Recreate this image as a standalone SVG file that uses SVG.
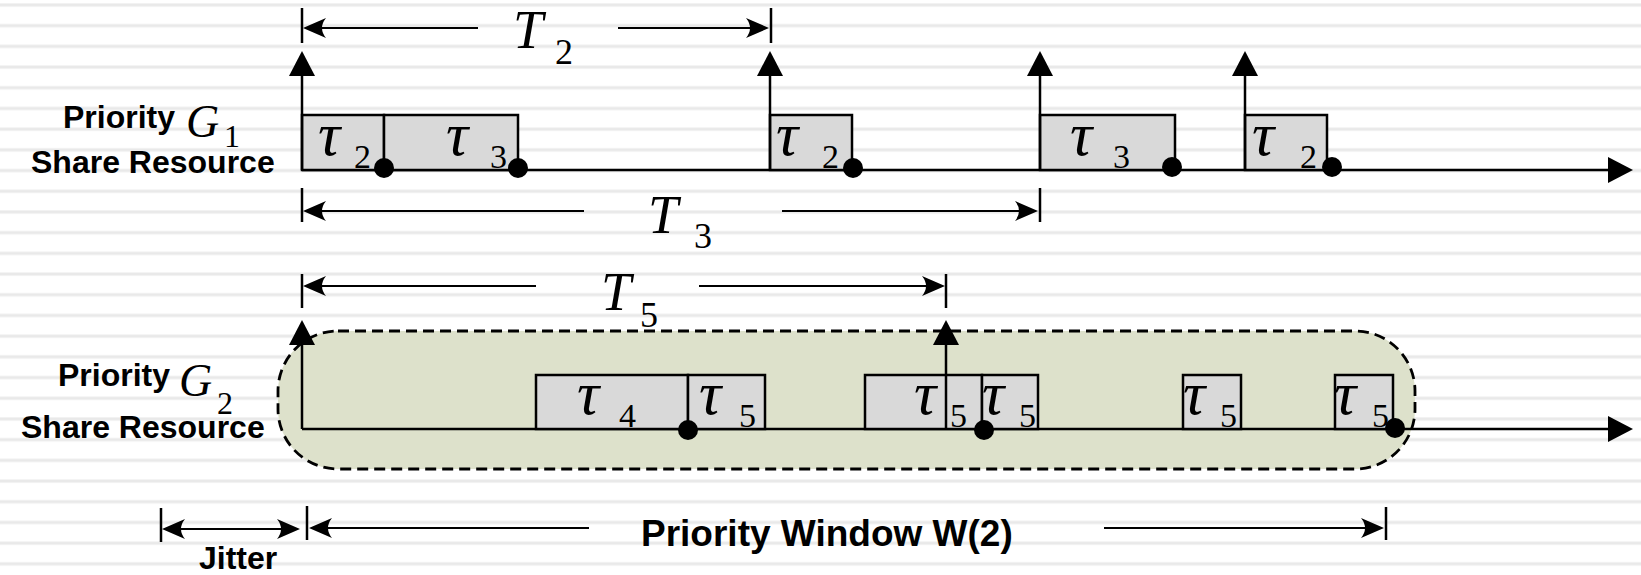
<svg xmlns="http://www.w3.org/2000/svg" width="1641" height="575" viewBox="0 0 1641 575">
  <defs>
    <style>
      .lbl { font-family: "Liberation Sans", Arial, sans-serif; font-weight: bold; font-size: 32px; fill: #000; }
      .lbl-lg { font-family: "Liberation Sans", Arial, sans-serif; font-weight: bold; font-size: 37px; fill: #000; }
      .sym { font-family: "Liberation Serif", "Times New Roman", serif; font-style: italic; fill: #000; }
      .sub { font-family: "Liberation Serif", "Times New Roman", serif; fill: #000; }
      .tau { font-size: 62px; }
      .tsub { font-size: 34px; }
      .big { font-size: 54px; }
      .bsub { font-size: 36px; }
      .gsym { font-size: 46px; }
      .gsub { font-size: 32px; }
      .task { fill: #d9d9d9; stroke: #000; stroke-width: 2.5; }
      .axis { stroke: #000; stroke-width: 2.5; fill: none; }
      .rel { stroke: #000; stroke-width: 2.5; fill: none; marker-end: url(#tri); }
      .dim { stroke: #000; stroke-width: 2.2; fill: none; }
      .tick { stroke: #000; stroke-width: 2.5; }
      .end { fill: #000; }
    </style>
    <pattern id="ruled" patternUnits="userSpaceOnUse" width="40" height="20.7">
      <rect x="0" y="3" width="40" height="4" fill="#f3f3f3"/>
      <rect x="0" y="4" width="40" height="2" fill="#e9e9e9"/>
    </pattern>
    <marker id="stealth" markerUnits="userSpaceOnUse" orient="auto-start-reverse" refX="-3" refY="0" markerWidth="30" markerHeight="30" overflow="visible">
      <path d="M0,0 L-23,-10 Q-15,0 -23,10 Z" fill="#000"/>
    </marker>
    <marker id="tri" markerUnits="userSpaceOnUse" orient="auto" refX="-8" refY="0" markerWidth="30" markerHeight="30" overflow="visible">
      <path d="M0,0 L-25,-13 L-25,13 Z" fill="#000"/>
    </marker>
  </defs>

  <!-- ruled background -->
  <rect x="0" y="0" width="1641" height="575" fill="#fff"/>
  <rect x="0" y="0" width="1641" height="575" fill="url(#ruled)"/>

  <!-- priority window of group 2 -->
  <g id="window-g2">
    <rect x="278" y="331" width="1137" height="138" rx="60" ry="60" fill="#dde1cb" stroke="#000" stroke-width="2.8" stroke-dasharray="11 6"/>
  </g>

  <!-- row labels -->
  <g id="label-g1">
    <text class="lbl" x="63" y="128">Priority</text>
    <text class="sym gsym" x="186" y="137">G</text>
    <text class="sub gsub" x="224" y="147">1</text>
    <text class="lbl" x="31" y="173">Share Resource</text>
  </g>
  <g id="label-g2">
    <text class="lbl" x="58" y="386">Priority</text>
    <text class="sym gsym" x="179" y="396">G</text>
    <text class="sub gsub" x="217" y="414">2</text>
    <text class="lbl" x="21" y="438">Share Resource</text>
  </g>

  <!-- time axes -->
  <g id="axes">
    <line class="axis" x1="302" y1="170" x2="1625" y2="170" marker-end="url(#tri)"/>
    <line class="axis" x1="302" y1="429" x2="1625" y2="429" marker-end="url(#tri)"/>
  </g>

  <!-- group 1 jobs -->
  <g id="g1-job1">
    <rect class="task" x="302" y="115" width="82" height="55"/>
    <text class="sym tau" x="318" y="155">τ</text><text class="sub tsub" x="354" y="168">2</text>
  </g>
  <g id="g1-job2">
    <rect class="task" x="384" y="115" width="134" height="55"/>
    <text class="sym tau" x="446" y="155">τ</text><text class="sub tsub" x="490" y="168">3</text>
  </g>
  <g id="g1-job3">
    <rect class="task" x="770" y="115" width="82" height="55"/>
    <text class="sym tau" x="776" y="155">τ</text><text class="sub tsub" x="822" y="168">2</text>
  </g>
  <g id="g1-job4">
    <rect class="task" x="1040" y="115" width="135" height="55"/>
    <text class="sym tau" x="1070" y="155">τ</text><text class="sub tsub" x="1113" y="168">3</text>
  </g>
  <g id="g1-job5">
    <rect class="task" x="1245" y="115" width="82" height="55"/>
    <text class="sym tau" x="1252" y="155">τ</text><text class="sub tsub" x="1300" y="168">2</text>
  </g>

  <!-- group 2 jobs -->
  <g id="g2-job1">
    <rect class="task" x="536" y="375" width="152" height="54"/>
    <text class="sym tau" x="577" y="414">τ</text><text class="sub tsub" x="619" y="427">4</text>
  </g>
  <g id="g2-job2">
    <rect class="task" x="688" y="375" width="77" height="54"/>
    <text class="sym tau" x="699" y="414">τ</text><text class="sub tsub" x="739" y="427">5</text>
  </g>
  <g id="g2-job3">
    <rect class="task" x="865" y="375" width="117" height="54"/>
    <text class="sym tau" x="914" y="414">τ</text><text class="sub tsub" x="950" y="427">5</text>
  </g>
  <g id="g2-job4">
    <rect class="task" x="982" y="375" width="56" height="54"/>
    <text class="sym tau" x="982" y="414">τ</text><text class="sub tsub" x="1019" y="427">5</text>
  </g>
  <g id="g2-job5">
    <rect class="task" x="1183" y="375" width="58" height="54"/>
    <text class="sym tau" x="1183" y="414">τ</text><text class="sub tsub" x="1220" y="427">5</text>
  </g>
  <g id="g2-job6">
    <rect class="task" x="1335" y="375" width="58" height="54"/>
    <text class="sym tau" x="1334" y="414">τ</text><text class="sub tsub" x="1372" y="427">5</text>
  </g>

  <!-- releases, completions and periods -->
  <g id="connectors">
    <!-- release arrows -->
    <line class="rel" x1="302" y1="170" x2="302" y2="59"/>
    <line class="rel" x1="770" y1="170" x2="770" y2="59"/>
    <line class="rel" x1="1040" y1="170" x2="1040" y2="59"/>
    <line class="rel" x1="1245" y1="170" x2="1245" y2="59"/>
    <line class="rel" x1="302" y1="429" x2="302" y2="328"/>
    <line class="rel" x1="946" y1="429" x2="946" y2="328"/>

    <!-- completion points -->
    <circle class="end" cx="384" cy="168" r="10"/>
    <circle class="end" cx="518" cy="168" r="10"/>
    <circle class="end" cx="853" cy="168" r="10"/>
    <circle class="end" cx="1172" cy="167" r="10"/>
    <circle class="end" cx="1332" cy="167" r="10"/>
    <circle class="end" cx="688" cy="430" r="10"/>
    <circle class="end" cx="984" cy="430" r="10"/>
    <circle class="end" cx="1395" cy="428" r="10"/>

    <!-- period T2 -->
    <line class="tick" x1="302" y1="8" x2="302" y2="43"/>
    <line class="tick" x1="771" y1="8" x2="771" y2="43"/>
    <line class="dim" x1="306" y1="28" x2="478" y2="28" marker-start="url(#stealth)"/>
    <line class="dim" x1="618" y1="28" x2="766" y2="28" marker-end="url(#stealth)"/>
    <!-- period T3 -->
    <line class="tick" x1="302" y1="188" x2="302" y2="222"/>
    <line class="tick" x1="1040" y1="188" x2="1040" y2="222"/>
    <line class="dim" x1="306" y1="211" x2="584" y2="211" marker-start="url(#stealth)"/>
    <line class="dim" x1="782" y1="211" x2="1035" y2="211" marker-end="url(#stealth)"/>
    <!-- period T5 -->
    <line class="tick" x1="302" y1="274" x2="302" y2="308"/>
    <line class="tick" x1="946" y1="274" x2="946" y2="308"/>
    <line class="dim" x1="306" y1="286" x2="536" y2="286" marker-start="url(#stealth)"/>
    <line class="dim" x1="699" y1="286" x2="942" y2="286" marker-end="url(#stealth)"/>
    <!-- jitter -->
    <line class="tick" x1="161" y1="508" x2="161" y2="542"/>
    <line class="tick" x1="307" y1="506" x2="307" y2="540"/>
    <line class="dim" x1="165" y1="529" x2="297" y2="529" marker-start="url(#stealth)" marker-end="url(#stealth)"/>
    <!-- priority window -->
    <line class="tick" x1="1386" y1="507" x2="1386" y2="540"/>
    <line class="dim" x1="312" y1="528" x2="589" y2="528" marker-start="url(#stealth)"/>
    <line class="dim" x1="1104" y1="528" x2="1381" y2="528" marker-end="url(#stealth)"/>
  </g>

  <!-- period and window labels -->
  <g id="labels">
    <text class="sym big" x="513" y="48">T</text><text class="sub bsub" x="555" y="64">2</text>
    <text class="sym big" x="648" y="233">T</text><text class="sub bsub" x="694" y="248">3</text>
    <text class="sym big" x="601" y="310">T</text><text class="sub bsub" x="640" y="327">5</text>
    <text class="lbl" x="199" y="569">Jitter</text>
    <text class="lbl-lg" x="641" y="546">Priority Window W(2)</text>
  </g>
</svg>
